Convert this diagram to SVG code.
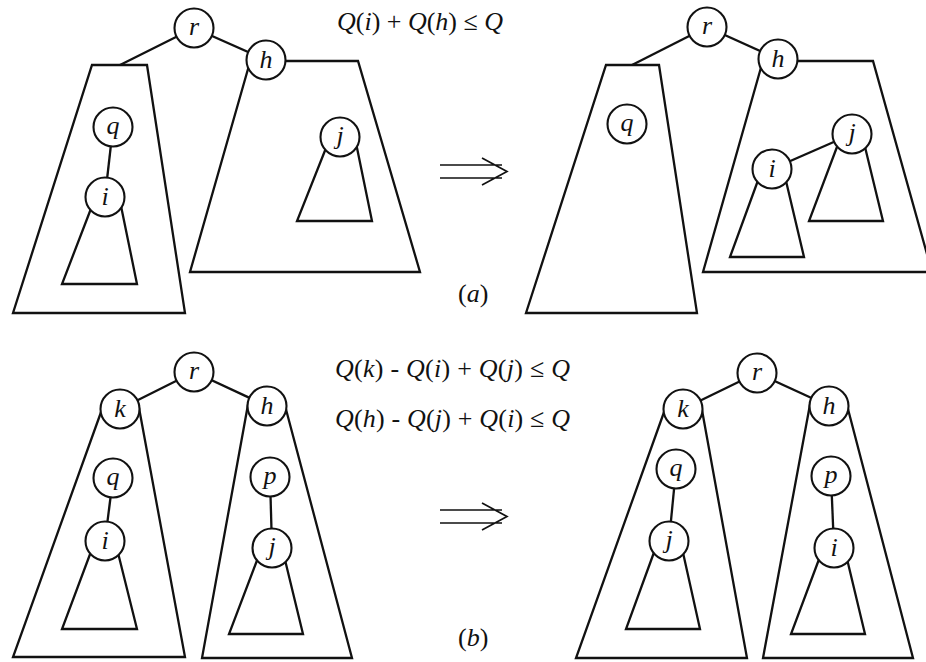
<svg xmlns="http://www.w3.org/2000/svg" width="926" height="662" viewBox="0 0 926 662">
<style>
  .edge { fill: none; stroke: #111; stroke-width: 2.3; stroke-linejoin: miter; }
  .sub { fill: none; stroke: #111; stroke-width: 2.3; stroke-linejoin: miter; }
  .node circle { fill: #fff; stroke: #111; stroke-width: 2.1; }
  .node text { font-family: "Liberation Serif", "Times New Roman", serif; font-style: italic; font-size: 26px; text-anchor: middle; fill: #111; }
  .eq { font-family: "Liberation Serif", "Times New Roman", serif; font-size: 26px; fill: #111; }
  .eq .v { font-style: italic; }
  .lbl { font-family: "Liberation Serif", "Times New Roman", serif; font-size: 26px; fill: #111; }
  .arrow { fill: none; stroke: #111; stroke-width: 1.7; }
</style>

<!-- subtree shapes -->
<g id="subtrees">
  <!-- panel a, before -->
  <polygon id="a1-sub-left" class="sub" points="92,65 147,65 185,313 13,313"/>
  <path id="a1-sub-h" class="sub" d="M280,61 L358,61 L420,272 L190,272 L250,62"/>
  <path id="a1-sub-i" class="sub" d="M92,206 L62,284 L137,284 L121,206"/>
  <path id="a1-sub-j" class="sub" d="M328,143 L297,221 L372,221 L356,143"/>
  <!-- panel a, after -->
  <polygon id="a2-sub-left" class="sub" points="606,65 659,65 697,313 526,313"/>
  <path id="a2-sub-h" class="sub" d="M790,61 L873,61 L932,272 L703,272 L762,64"/>
  <path id="a2-sub-i" class="sub" d="M759.6,176 L730,257 L804,257 L785.3,178"/>
  <path id="a2-sub-j" class="sub" d="M839.6,140 L809,221 L883,221 L863.3,140"/>
  <!-- panel b, before -->
  <path id="b1-sub-k" class="sub" d="M102.5,408 L13,657 L185,657 L138.1,403"/>
  <path id="b1-sub-i" class="sub" d="M91.6,550 L62,629 L137,629 L117.3,550"/>
  <path id="b1-sub-h" class="sub" d="M248.1,404 L202,658 L352,658 L285.1,406"/>
  <path id="b1-sub-j" class="sub" d="M258.7,556 L229,634 L303,634 L284.3,557"/>
  <!-- panel b, after -->
  <path id="b2-sub-k" class="sub" d="M665.5,408 L576,658 L747,658 L700.9,404"/>
  <path id="b2-sub-j" class="sub" d="M655.6,548 L626,629 L700,629 L682.4,550"/>
  <path id="b2-sub-h" class="sub" d="M810.1,404 L763,658 L913,658 L847.2,406"/>
  <path id="b2-sub-i" class="sub" d="M820.6,555 L791,634 L865,634 L846.3,556"/>
</g>

<!-- connectors -->
<g id="connectors">
  <line class="edge" x1="194" y1="28" x2="120" y2="65"/>
  <line class="edge" x1="194" y1="28" x2="266" y2="60"/>
  <line class="edge" x1="113" y1="127" x2="105" y2="197"/>

  <line class="edge" x1="707" y1="27" x2="632" y2="65"/>
  <line class="edge" x1="707" y1="27" x2="778" y2="59"/>
  <line class="edge" x1="772" y1="169" x2="852" y2="134"/>

  <line class="edge" x1="194" y1="372" x2="120" y2="409"/>
  <line class="edge" x1="194" y1="372" x2="267" y2="406"/>
  <line class="edge" x1="113" y1="478" x2="105" y2="541"/>
  <line class="edge" x1="270" y1="477" x2="272" y2="548"/>

  <line class="edge" x1="757" y1="373" x2="683" y2="409"/>
  <line class="edge" x1="757" y1="373" x2="829" y2="406"/>
  <line class="edge" x1="676" y1="469" x2="669" y2="541"/>
  <line class="edge" x1="831" y1="476" x2="834" y2="548"/>
</g>

<!-- nodes: panel a, before -->
<g id="a1-r" class="node"><circle cx="194" cy="28" r="19.5"/><text x="194" y="35">r</text></g>
<g id="a1-h" class="node"><circle cx="266" cy="60" r="19.5"/><text x="266" y="68">h</text></g>
<g id="a1-q" class="node"><circle cx="113" cy="127" r="19.5"/><text x="113" y="134">q</text></g>
<g id="a1-i" class="node"><circle cx="105" cy="197" r="19.5"/><text x="105" y="205">i</text></g>
<g id="a1-j" class="node"><circle cx="340" cy="137" r="19.5"/><text x="340" y="144">j</text></g>

<!-- nodes: panel a, after -->
<g id="a2-r" class="node"><circle cx="707" cy="27" r="19.5"/><text x="707" y="34">r</text></g>
<g id="a2-h" class="node"><circle cx="778" cy="59" r="19.5"/><text x="778" y="67">h</text></g>
<g id="a2-q" class="node"><circle cx="627" cy="124" r="19.5"/><text x="627" y="131">q</text></g>
<g id="a2-j" class="node"><circle cx="852" cy="134" r="19.5"/><text x="852" y="141">j</text></g>
<g id="a2-i" class="node"><circle cx="772" cy="169" r="19.5"/><text x="772" y="177">i</text></g>

<!-- nodes: panel b, before -->
<g id="b1-r" class="node"><circle cx="194" cy="372" r="19.5"/><text x="194" y="379">r</text></g>
<g id="b1-k" class="node"><circle cx="120" cy="409" r="19.5"/><text x="120" y="417">k</text></g>
<g id="b1-h" class="node"><circle cx="267" cy="406" r="19.5"/><text x="267" y="414">h</text></g>
<g id="b1-q" class="node"><circle cx="113" cy="478" r="19.5"/><text x="113" y="485">q</text></g>
<g id="b1-i" class="node"><circle cx="105" cy="541" r="19.5"/><text x="105" y="549">i</text></g>
<g id="b1-p" class="node"><circle cx="270" cy="477" r="19.5"/><text x="270" y="484">p</text></g>
<g id="b1-j" class="node"><circle cx="272" cy="548" r="19.5"/><text x="272" y="555">j</text></g>

<!-- nodes: panel b, after -->
<g id="b2-r" class="node"><circle cx="757" cy="373" r="19.5"/><text x="757" y="380">r</text></g>
<g id="b2-k" class="node"><circle cx="683" cy="409" r="19.5"/><text x="683" y="417">k</text></g>
<g id="b2-h" class="node"><circle cx="829" cy="406" r="19.5"/><text x="829" y="414">h</text></g>
<g id="b2-q" class="node"><circle cx="676" cy="469" r="19.5"/><text x="676" y="476">q</text></g>
<g id="b2-j" class="node"><circle cx="669" cy="541" r="19.5"/><text x="669" y="548">j</text></g>
<g id="b2-p" class="node"><circle cx="831" cy="476" r="19.5"/><text x="831" y="483">p</text></g>
<g id="b2-i" class="node"><circle cx="834" cy="548" r="19.5"/><text x="834" y="556">i</text></g>

<!-- transformation arrows -->
<g id="arrow-a"><path class="arrow" d="M440,165 L502,165 M440,178 L502,178 M482,158 L507,171.5 L482,185"/></g>
<g id="arrow-b"><path class="arrow" d="M440,510 L502,510 M440,523 L502,523 M482,503 L507,516.5 L482,530"/></g>

<!-- formulas and labels -->
<g id="texts">
  <text class="eq" x="337" y="30" textLength="166" lengthAdjust="spacing"><tspan class="v">Q</tspan>(<tspan class="v">i</tspan>) + <tspan class="v">Q</tspan>(<tspan class="v">h</tspan>) ≤ <tspan class="v">Q</tspan></text>
  <text class="eq" x="335" y="377" textLength="235" lengthAdjust="spacing"><tspan class="v">Q</tspan>(<tspan class="v">k</tspan>) - <tspan class="v">Q</tspan>(<tspan class="v">i</tspan>) + <tspan class="v">Q</tspan>(<tspan class="v">j</tspan>) ≤ <tspan class="v">Q</tspan></text>
  <text class="eq" x="335" y="427" textLength="235" lengthAdjust="spacing"><tspan class="v">Q</tspan>(<tspan class="v">h</tspan>) - <tspan class="v">Q</tspan>(<tspan class="v">j</tspan>) + <tspan class="v">Q</tspan>(<tspan class="v">i</tspan>) ≤ <tspan class="v">Q</tspan></text>
  <text class="lbl" x="458" y="302">(<tspan font-style="italic">a</tspan>)</text>
  <text class="lbl" x="458" y="646">(<tspan font-style="italic">b</tspan>)</text>
</g>
</svg>
